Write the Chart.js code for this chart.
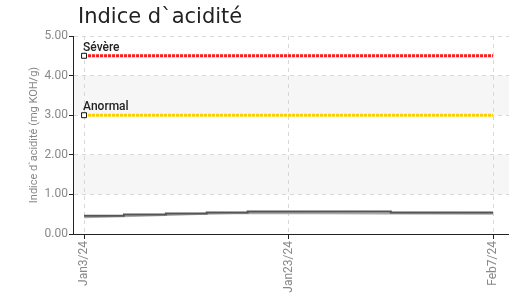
<!DOCTYPE html>
<html>
<head>
<meta charset="utf-8">
<script src="https://cdn.jsdelivr.net/npm/chart.js@4/dist/chart.umd.min.js"></script>
<style>
html,body{margin:0;padding:0;background:#fff;}
#wrap{position:relative;width:509px;height:294px;}
</style>
</head>
<body>
<div id="wrap"><canvas id="c" width="509" height="294"></canvas></div>
<script>
// ---- data ----
const chartTitle = 'Indice d`acidité';
const yAxisTitle = 'Indice d`acidité (mg KOH/g)';
const categories = ['Jan3/24', 'Jan23/24', 'Feb7/24'];
const categoryPositions = [0, 1, 2];
const yTicks = [0, 1, 2, 3, 4, 5];
const severeLabel = 'Sévère';
const severeValue = 4.5;
const anormalLabel = 'Anormal';
const anormalValue = 3.0;
const acidX = [0, 0.195, 0.4, 0.6, 0.8, 1.5, 2];
const acidValues = [0.46, 0.49, 0.52, 0.545, 0.57, 0.545, 0.545];
const acidShadowValues = [0.42, 0.45, 0.48, 0.51, 0.53, 0.52, 0.51];

const narrow = "Roboto,'Liberation Sans Narrow',sans-serif";

function pts(xs, ys){ return xs.map((x,i)=>({x:x, y:ys[i]})); }
const thresholdX = [categoryPositions[0], categoryPositions[categoryPositions.length-1]];

const bandPlugin = {
  id: 'bands',
  beforeDraw(chart){
    const {ctx, chartArea:a, scales:{y}} = chart;
    ctx.save();
    ctx.fillStyle = '#f6f6f6';
    [[1,2],[3,4]].forEach(([lo,hi])=>{
      const t = y.getPixelForValue(hi), b = y.getPixelForValue(lo);
      ctx.fillRect(a.left, t, a.right - a.left, b - t);
    });
    ctx.restore();
  }
};

const textPlugin = {
  id: 'texts',
  afterDraw(chart){
    const {ctx, scales:{x, y}} = chart;
    ctx.save();
    ctx.fillStyle = '#222';
    ctx.font = "21px 'DejaVu Sans',sans-serif";
    ctx.textBaseline = 'alphabetic';
    ctx.textAlign = 'left';
    ctx.fillText(chartTitle, 78, 23);
    ctx.font = "500 12px " + narrow;
    ctx.fillStyle = '#222';
    ctx.textBaseline = 'bottom';
    const x0 = x.getPixelForValue(thresholdX[0]);
    ctx.fillText(severeLabel, x0 - 1, y.getPixelForValue(severeValue) - 2);
    ctx.fillText(anormalLabel, x0 - 1, y.getPixelForValue(anormalValue) - 2);
    ctx.restore();
  }
};

new Chart(document.getElementById('c'), {
  type: 'line',
  data: {
    datasets: [
      {
        data: pts(thresholdX, [severeValue, severeValue]),
        borderColor: '#ff1a1a', borderWidth: 3, borderDash: [3,1],
        pointRadius: [3.5, 0], pointStyle: 'rect',
        pointBackgroundColor: '#fff', pointBorderColor: '#111', pointBorderWidth: 1,
        order: 1
      },
      {
        data: pts(thresholdX, [anormalValue, anormalValue]),
        borderColor: '#ffcc00', borderWidth: 3, borderDash: [3,1],
        pointRadius: [3.5, 0], pointStyle: 'rect',
        pointBackgroundColor: '#fff', pointBorderColor: '#111', pointBorderWidth: 1,
        order: 1
      },
      {
        data: pts(acidX, acidShadowValues),
        borderColor: '#a8a8a8', borderWidth: 2, pointRadius: 0,
        order: 3
      },
      {
        data: pts(acidX, acidValues),
        borderColor: '#555', borderWidth: 2, pointRadius: 0, stepped: 'before',
        order: 2
      }
    ]
  },
  options: {
    responsive: false,
    animation: false,
    devicePixelRatio: 1,
    layout: { autoPadding: false, padding: { top: 36, right: 0, left: 0, bottom: 0 } },
    plugins: { legend: { display: false }, tooltip: { enabled: false }, title: { display: false } },
    scales: {
      x: {
        type: 'linear', min: -0.054, max: 2.078,
        afterBuildTicks(s){ s.ticks = categoryPositions.map(v=>({value:v})); },
        afterFit(s){ s.height = 60; s.paddingLeft = 0; s.paddingRight = 0; },
        ticks: {
          callback(v){ const i = categoryPositions.indexOf(v); return i >= 0 ? categories[i] : ''; },
          minRotation: 90, maxRotation: 90, autoSkip: false,
          color: '#888', font: { family: narrow, size: 12 }, padding: 2
        },
        grid: { color: '#d8d8d8', tickColor: '#222', tickLength: 5, lineWidth: 1 },
        border: { display: true, color: '#222', width: 1, dash: [4,4] }
      },
      y: {
        type: 'linear', min: 0, max: 5,
        afterBuildTicks(s){ s.ticks = yTicks.map(v=>({value:v})); },
        afterFit(s){ s.width = 73; s.paddingTop = 0; s.paddingBottom = 0; },
        ticks: {
          callback(v){ return v.toFixed(2); },
          color: '#888', font: { family: narrow, size: 12 }, padding: 1
        },
        grid: { color: '#d8d8d8', tickColor: '#222', tickLength: 4, lineWidth: 1 },
        border: { display: true, color: '#222', width: 1, dash: [4,4] },
        title: {
          display: true, text: yAxisTitle, color: '#888',
          font: { family: narrow, size: 11 }, padding: { top: 28 }
        }
      }
    }
  },
  plugins: [bandPlugin, textPlugin]
});
</script>
</body>
</html>
